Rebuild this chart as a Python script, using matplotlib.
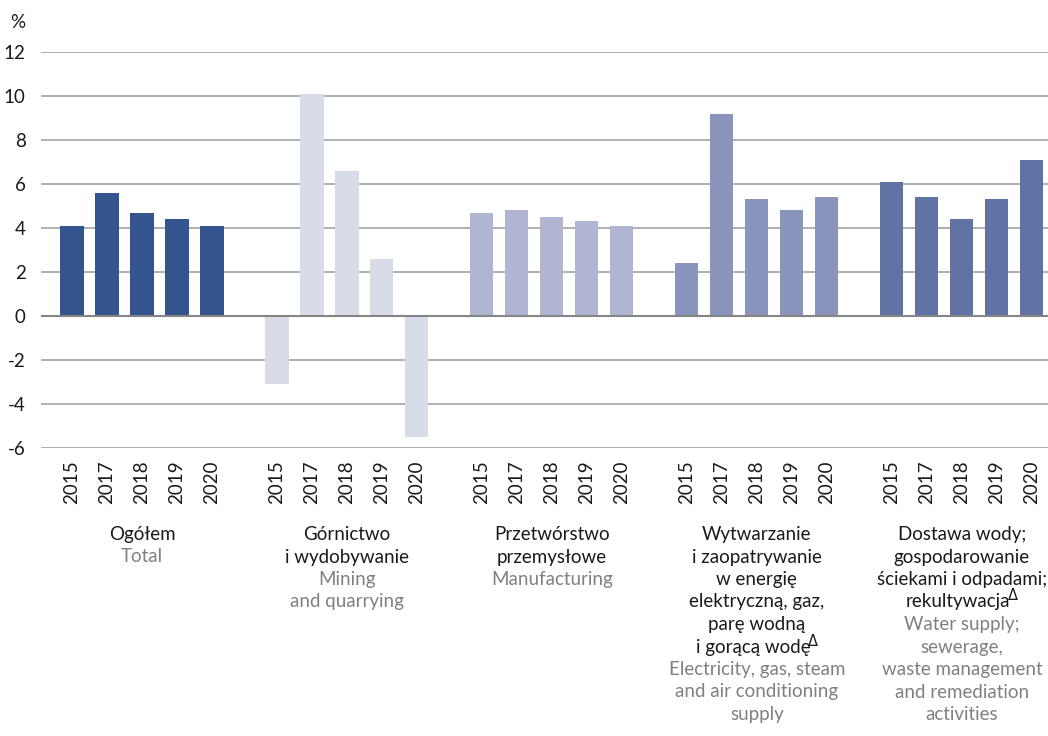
import matplotlib
matplotlib.use("Agg")
import matplotlib.pyplot as plt
import numpy as np

plt.rcParams['font.family'] = ['Lato', 'DejaVu Sans']

years = ["2015", "2017", "2018", "2019", "2020"]
total = [4.1, 5.6, 4.7, 4.4, 4.1]
mining = [-3.1, 10.1, 6.6, 2.6, -5.5]
manufacturing = [4.7, 4.8, 4.5, 4.3, 4.1]
electricity = [2.4, 9.2, 5.3, 4.8, 5.4]
water = [6.1, 5.4, 4.4, 5.3, 7.1]
series = [total, mining, manufacturing, electricity, water]
colors = ["#33548c", "#d8dbe8", "#b0b6d2", "#8995bc", "#6173a5"]

# lines ending with "^D" get a raised Δ sign
labels_pl = [
    ["Ogółem"],
    ["Górnictwo", "i wydobywanie"],
    ["Przetwórstwo", "przemysłowe"],
    ["Wytwarzanie", "i zaopatrywanie", "w energię", "elektryczną, gaz,", "parę wodną", "i gorącą wodę^D"],
    ["Dostawa wody;", "gospodarowanie", "ściekami i odpadami;", "rekultywacja^D"],
]
labels_en = [
    ["Total"],
    ["Mining", "and quarrying"],
    ["Manufacturing"],
    ["Electricity, gas, steam", "and air conditioning", "supply"],
    ["Water supply;", "sewerage,", "waste management", "and remediation", "activities"],
]

W, H = 1048, 736
fig = plt.figure(figsize=(W / 100, H / 100), dpi=100)
ax = fig.add_axes([41 / W, 1 - 448 / H, 1 - 41 / W, (448 - 52) / H])

group_step = 5.857
xs_all, ticklabels = [], []
for g, vals in enumerate(series):
    xs = g * group_step + np.arange(len(vals))
    ax.bar(xs, vals, width=0.66, color=colors[g], zorder=2)
    xs_all.extend(xs)
    ticklabels.extend(years)

ax.set_xlim(-0.886, 27.89)
ax.set_ylim(-6, 12)
ax.set_yticks(np.arange(-6, 13, 2))
ax.set_yticklabels([str(v) for v in range(-6, 13, 2)])
ax.set_xticks(xs_all)
ax.set_xticklabels(ticklabels, rotation=90, va='top', ha='center')

ax.grid(axis='y', color='#a9a9a9', linewidth=1.3, zorder=0)
ax.set_axisbelow(True)
ax.axhline(0, color='#858585', linewidth=1.5, zorder=3)
for s in ax.spines.values():
    s.set_visible(False)
ax.tick_params(axis='both', length=0, labelsize=13.5, colors='#1a1a1a')
ax.tick_params(axis='y', pad=11)
ax.tick_params(axis='x', pad=9)

fig.text(10 / W, 1 - 28 / H, "%", fontsize=13.5, color='#1a1a1a', va='baseline', ha='left')

renderer = fig.canvas.get_renderer()

def put_line(xpix, ybase, line, color):
    yf = 1 - ybase / H
    if line.endswith("^D"):
        main = line[:-2]
        t1 = fig.text(0, yf, main, fontsize=13.5, color=color, ha='left', va='baseline')
        t2 = fig.text(0, 1 - (ybase - 7) / H, "Δ", fontsize=10.5, color=color,
                      ha='left', va='baseline', family='DejaVu Sans')
        w1 = t1.get_window_extent(renderer).width
        w2 = t2.get_window_extent(renderer).width
        gap = -2
        x0 = xpix - (w1 + w2 + gap) / 2
        t1.set_x(x0 / W)
        t2.set_x((x0 + w1 + gap) / W)
    else:
        fig.text(xpix / W, yf, line, fontsize=13.5, color=color, ha='center', va='baseline')

base0 = 540
step = 22.5
for g in range(len(series)):
    xc = g * group_step + 2
    xpix = ax.transData.transform((xc, 0))[0]
    k = 0
    for line in labels_pl[g]:
        put_line(xpix, base0 + k * step, line, '#1a1a1a')
        k += 1
    for line in labels_en[g]:
        put_line(xpix, base0 + k * step, line, '#808080')
        k += 1

fig.savefig("out.png", dpi=100)
